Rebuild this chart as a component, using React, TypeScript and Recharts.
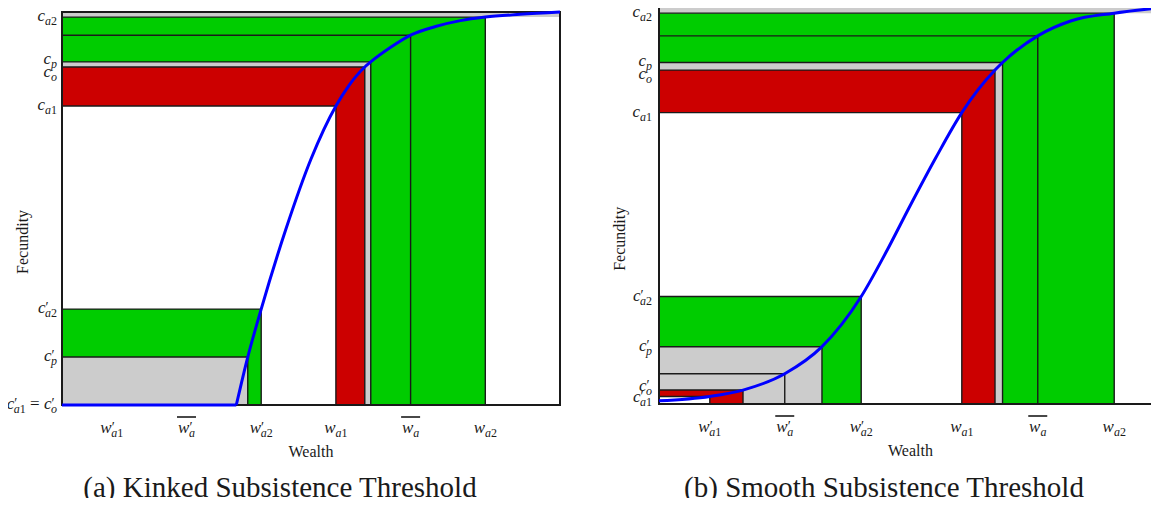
import React from 'react';
import { ComposedChart, Line, XAxis, YAxis, ReferenceArea, Label } from 'recharts';

// ---- panel (a): kinked subsistence threshold ----
const flatA = [
  { w: 0, c: 0 },
  { w: 35, c: 0 },
];
const curveA = [
  { w: 35, c: 0 },
  { w: 37.3, c: 12.2 },
  { w: 40, c: 24.4 },
  { w: 45, c: 44.9 },
  { w: 50, c: 62.6 },
  { w: 55, c: 76.1 },
  { w: 57.5, c: 81.1 },
  { w: 60.8, c: 86 },
  { w: 62, c: 87.3 },
  { w: 66, c: 91.0 },
  { w: 70, c: 94.1 },
  { w: 75, c: 96.3 },
  { w: 80, c: 97.8 },
  { w: 85, c: 98.7 },
  { w: 92, c: 99.4 },
  { w: 100, c: 100 },
];
const xTicksA = [10, 25, 40, 55, 70, 85];
const xLabelsA = ["w'_a1", "\\bar{w'_a}", "w'_a2", 'w_a1', '\\bar{w_a}', 'w_a2'];
const yTicksA = [0, 12.2, 24.4, 76.1, 86, 87.3, 98.7];
const yLabelsA = ["c'_a1 = c'_o", "c'_p", "c'_a2", 'c_a1', 'c_o', 'c_p', 'c_a2'];
// [x2, y2, fill] of rectangles anchored at the origin, painted in order
const rectsA: [number, number, string][] = [
  [85, 98.7, 'green'],
  [70, 94.1, 'green'],
  [62, 87.3, 'gray'],
  [60.8, 86, 'red'],
  [55, 76.1, 'white'],
  [40, 24.4, 'green'],
  [37.3, 12.2, 'gray'],
];

// ---- panel (b): smooth subsistence threshold ----
const curveB = [
  { w: 0, c: 0.8 },
  { w: 10.1, c: 1.9 },
  { w: 16.7, c: 3.5 },
  { w: 25, c: 7.6 },
  { w: 32.4, c: 14.4 },
  { w: 40.2, c: 27 },
  { w: 45, c: 37.8 },
  { w: 50, c: 50 },
  { w: 55, c: 61.8 },
  { w: 60.2, c: 73.2 },
  { w: 66.8, c: 83.9 },
  { w: 68.3, c: 85.8 },
  { w: 75.3, c: 92.5 },
  { w: 82, c: 96.3 },
  { w: 90.5, c: 98.2 },
  { w: 100, c: 99.6 },
];
const xTicksB = [10.1, 25, 40.2, 60.2, 75.3, 90.5];
const xLabelsB = ["w'_a1", "\\bar{w'_a}", "w'_a2", 'w_a1', '\\bar{w_a}', 'w_a2'];
const yTicksB = [1.9, 3.5, 14.4, 27, 73.2, 83.9, 85.8, 98.2];
const yLabelsB = ["c'_a1", "c'_o", "c'_p", "c'_a2", 'c_a1', 'c_o', 'c_p', 'c_a2'];
const rectsB: [number, number, string][] = [
  [90.5, 98.2, 'green'],
  [75.3, 92.5, 'green'],
  [68.3, 85.8, 'gray'],
  [66.8, 83.9, 'red'],
  [60.2, 73.2, 'white'],
  [40.2, 27, 'green'],
  [32.4, 14.4, 'gray'],
  [25, 7.6, 'gray'],
  [16.7, 3.5, 'red'],
  [10.1, 1.9, 'white'],
];

const FILLS: Record<string, string> = {
  green: '#00cc00',
  red: '#cc0000',
  gray: '#cccccc',
  white: '#ffffff',
};
const SERIF = "'Liberation Serif', serif";
const INK = '#1a1a1a';

type Piece = { t: string; italic: boolean; size: number; shift: number; dx?: number };

function parseMath(src: string) {
  let bar = false;
  let s = src;
  const m = s.match(/^\\bar\{(.*)\}$/);
  if (m) {
    bar = true;
    s = m[1];
  }
  const pieces: Piece[] = [];
  s.split(' = ').forEach((part, i) => {
    if (i > 0) pieces.push({ t: ' = ', italic: false, size: 17, shift: 0 });
    const mm = part.match(/^([a-z])('?)(?:_(\w+))?$/);
    if (!mm) return;
    pieces.push({ t: mm[1], italic: true, size: 17, shift: 0 });
    if (mm[2]) pieces.push({ t: '\u2032', italic: false, size: 14, shift: -1 });
    if (mm[3]) {
      mm[3].split('').forEach((ch, k) => {
        pieces.push({
          t: ch,
          italic: /[a-z]/.test(ch),
          size: 12,
          shift: 4,
          dx: k === 0 && mm[2] ? -3.5 : 0,
        });
      });
    }
  });
  return { bar, pieces };
}

function MathText({ x, y, src, anchor }: { x: number; y: number; src: string; anchor: 'end' | 'middle' }) {
  const { bar, pieces } = parseMath(src);
  let cur = 0;
  return (
    <g>
      <text x={x} y={y} textAnchor={anchor} fontFamily={SERIF} fill={INK}>
        {pieces.map((p, i) => {
          const dy = p.shift - cur;
          cur = p.shift;
          return (
            <tspan key={i} fontSize={p.size} fontStyle={p.italic ? 'italic' : 'normal'} dy={dy} dx={p.dx || 0}>
              {p.t}
            </tspan>
          );
        })}
      </text>
      {bar && <line x1={x - 9.5} x2={x + 9.5} y1={y - 16} y2={y - 16} stroke={INK} strokeWidth={1.6} />}
    </g>
  );
}

const makeXTick = (ticks: number[], labels: string[]) => (props: any) => {
  const i = ticks.indexOf(props.payload.value);
  return <MathText x={props.x} y={props.y + 28} src={labels[i]} anchor="middle" />;
};

const makeYTick = (ticks: number[], labels: string[], nudge: Record<string, number>, gap: number) => (props: any) => {
  const i = ticks.indexOf(props.payload.value);
  const lab = labels[i];
  return <MathText x={props.x - gap} y={props.y + 4 + (nudge[lab] || 0)} src={lab} anchor="end" />;
};

function Panel({
  width,
  marginTop,
  marginBottom,
  marginRight,
  axisWidth,
  flat,
  curve,
  xTicks,
  xLabels,
  yTicks,
  yLabels,
  rects,
  nudge,
  gap,
}: any) {
  return (
    <ComposedChart
      width={width}
      height={470}
      margin={{ top: marginTop, right: marginRight, bottom: marginBottom, left: 0 }}
      data={curve}
    >
      <XAxis
        type="number"
        dataKey="w"
        domain={[0, 100]}
        ticks={xTicks}
        interval={0}
        tick={makeXTick(xTicks, xLabels)}
        tickSize={0}
        tickMargin={0}
        axisLine={false}
        tickLine={false}
        height={55}
      >
        <Label
          content={(p: any) => {
            const vb = p.viewBox;
            return (
              <text x={vb.x + vb.width / 2} y={vb.y + 52} textAnchor="middle" fontFamily={SERIF} fontSize={16} fill={INK}>
                Wealth
              </text>
            );
          }}
        />
      </XAxis>
      <YAxis
        type="number"
        domain={[0, 100]}
        ticks={yTicks}
        interval={0}
        tick={makeYTick(yTicks, yLabels, nudge, gap)}
        tickSize={0}
        tickMargin={0}
        axisLine={false}
        tickLine={false}
        width={axisWidth}
      >
        <Label
          content={(p: any) => {
            const vb = p.viewBox;
            const cx = vb.x + vb.width - 39;
            const cy = vb.y + vb.height * 0.585;
            return (
              <text
                x={cx}
                y={cy}
                transform={`rotate(-90 ${cx} ${cy})`}
                textAnchor="middle"
                dominantBaseline="central"
                fontFamily={SERIF}
                fontSize={16}
                fill={INK}
              >
                Fecundity
              </text>
            );
          }}
        />
      </YAxis>
      <ReferenceArea x1={0} x2={100} y1={rects[0][1]} y2={100} fill="#cccccc" fillOpacity={1} stroke="none" />
      {rects.map((r: [number, number, string], i: number) => (
        <ReferenceArea
          key={i}
          x1={0}
          x2={r[0]}
          y1={0}
          y2={r[1]}
          fill={FILLS[r[2]]}
          fillOpacity={1}
          stroke={INK}
          strokeWidth={1.4}
        />
      ))}
      <ReferenceArea x1={0} x2={100} y1={0} y2={100} fill="none" fillOpacity={0} stroke={INK} strokeWidth={2} />
      {flat && (
        <Line
          data={flat}
          dataKey="c"
          type="linear"
          stroke="#0000ff"
          strokeWidth={3}
          dot={false}
          activeDot={false}
          isAnimationActive={false}
        />
      )}
      <Line
        data={curve}
        dataKey="c"
        type="monotone"
        stroke="#0000ff"
        strokeWidth={3}
        dot={false}
        activeDot={false}
        isAnimationActive={false}
      />
    </ComposedChart>
  );
}

const captionStyle: React.CSSProperties = {
  position: 'absolute',
  top: 472,
  width: 520,
  textAlign: 'center',
  fontFamily: SERIF,
  fontSize: 29,
  lineHeight: '30px',
  color: INK,
  whiteSpace: 'nowrap',
};

export default function App() {
  return (
    <div style={{ position: 'relative', width: 1159, height: 506, margin: -8, overflow: 'hidden', background: '#fff' }}>
      <div style={{ position: 'absolute', left: 0, top: 0 }}>
        <Panel
          width={580}
          marginTop={12}
          marginBottom={10}
          marginRight={20}
          axisWidth={62}
          flat={flatA}
          curve={curveA}
          xTicks={xTicksA}
          xLabels={xLabelsA}
          yTicks={yTicksA}
          yLabels={yLabelsA}
          rects={rectsA}
          nudge={{ c_p: -2, c_o: 6 }}
          gap={5}
        />
      </div>
      <div style={{ position: 'absolute', left: 590, top: 0 }}>
        <Panel
          width={577}
          marginTop={6}
          marginBottom={11}
          marginRight={5}
          axisWidth={69}
          curve={curveB}
          xTicks={xTicksB}
          xLabels={xLabelsB}
          yTicks={yTicksB}
          yLabels={yLabelsB}
          rects={rectsB}
          nudge={{ c_p: -1, c_o: 5, "c'_o": -3, "c'_a1": 2 }}
          gap={7}
        />
      </div>
      <div style={{ ...captionStyle, left: 20 }}>(a) Kinked Subsistence Threshold</div>
      <div style={{ ...captionStyle, left: 624 }}>(b) Smooth Subsistence Threshold</div>
    </div>
  );
}
